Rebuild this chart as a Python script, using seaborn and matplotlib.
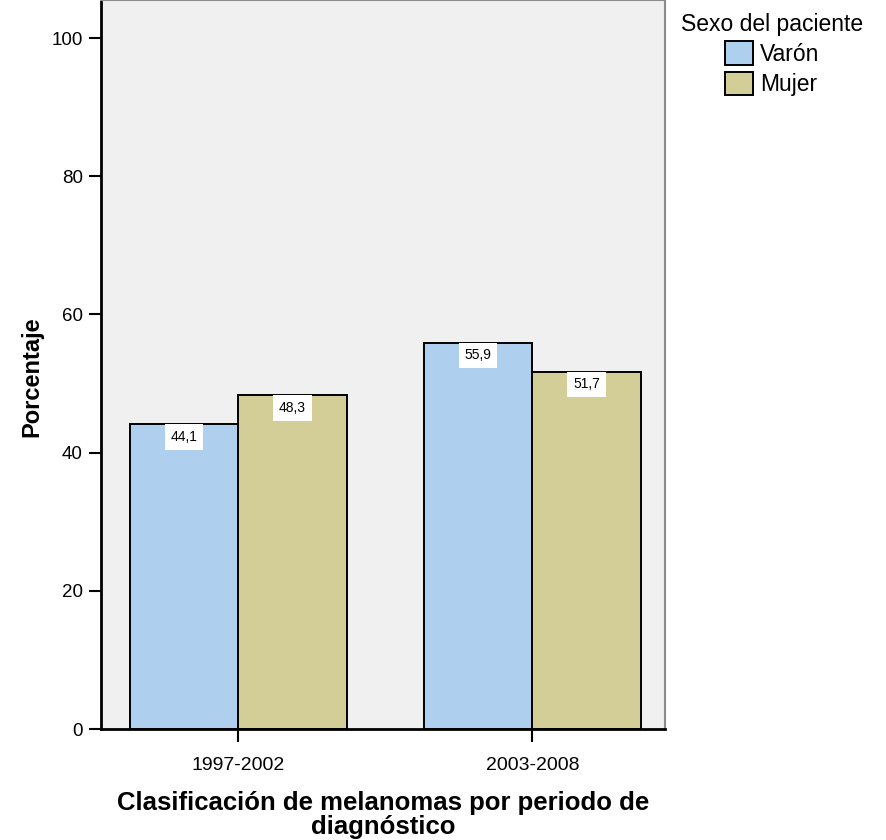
import matplotlib
matplotlib.use("Agg")
import matplotlib.pyplot as plt
import seaborn as sns
import pandas as pd

# Data
periodos = ["1997-2002", "2003-2008"]
sexos = ["Varón", "Mujer"]
varon = [44.1, 55.9]
mujer = [48.3, 51.7]
colores = {"Varón": "#AED0EE", "Mujer": "#D3CE98"}

df = pd.DataFrame({
    "periodo": periodos * 2,
    "sexo": [sexos[0]] * len(periodos) + [sexos[1]] * len(periodos),
    "porcentaje": varon + mujer,
})

sns.set_theme(style="white")
plt.rcParams["font.family"] = ["Liberation Sans", "DejaVu Sans"]
plt.rcParams["text.color"] = "black"
plt.rcParams["axes.labelcolor"] = "black"
plt.rcParams["xtick.color"] = "black"
plt.rcParams["ytick.color"] = "black"

fig = plt.figure(figsize=(8.86, 8.4), dpi=100)
ax = fig.add_axes([0.114, 0.132, 0.637, 0.868])
ax.set_facecolor("#F0F0F0")

sns.barplot(data=df, x="periodo", y="porcentaje", hue="sexo",
            order=periodos, hue_order=sexos, palette=colores,
            width=0.738, edgecolor="black", linewidth=1.4,
            saturation=1, errorbar=None, ax=ax)

# Value labels in white boxes just under each bar top
for cont in ax.containers:
    for bar, val in zip(cont, cont.datavalues):
        ax.annotate(f"{val:.1f}".replace(".", ","),
                    xy=(bar.get_x() + bar.get_width() / 2, val),
                    xytext=(0, -4.0), textcoords="offset points",
                    ha="center", va="top", fontsize=10, color="black",
                    bbox=dict(boxstyle="square,pad=0.42", fc="white", ec="none"))

ax.set_ylim(0, 105.5)
ax.set_xlim(-0.466, 1.452)
ax.set_yticks([0, 20, 40, 60, 80, 100])
ax.tick_params(axis="both", which="major", direction="out", length=9,
               width=1.5, color="black", pad=4, left=True, bottom=True)
ax.tick_params(axis="y", labelsize=13.5)
ax.tick_params(axis="x", labelsize=14, pad=11)

for side in ("left", "bottom"):
    ax.spines[side].set_color("black")
    ax.spines[side].set_linewidth(2)
for side in ("top", "right"):
    ax.spines[side].set_color("#8C8C8C")
    ax.spines[side].set_linewidth(1.5)

ax.set_xlabel("Clasificación de melanomas por periodo de\ndiagnóstico",
              fontsize=18.5, fontweight="bold", labelpad=12, linespacing=1.0)
ax.set_ylabel("Porcentaje", fontsize=17, fontweight="bold")
ax.yaxis.set_label_coords(-0.102, 0.483)

leg = ax.legend(title="Sexo del paciente", loc="upper left",
                bbox_to_anchor=(1.005, 1.0), frameon=False,
                fontsize=16.5, title_fontsize=16.5,
                handlelength=1.23, handleheight=1.2, handletextpad=0.3,
                labelspacing=0.25, borderaxespad=0.15)
for h in leg.legend_handles:
    h.set_edgecolor("black")
    h.set_linewidth(1.4)

fig.savefig("out.png", dpi=100)
